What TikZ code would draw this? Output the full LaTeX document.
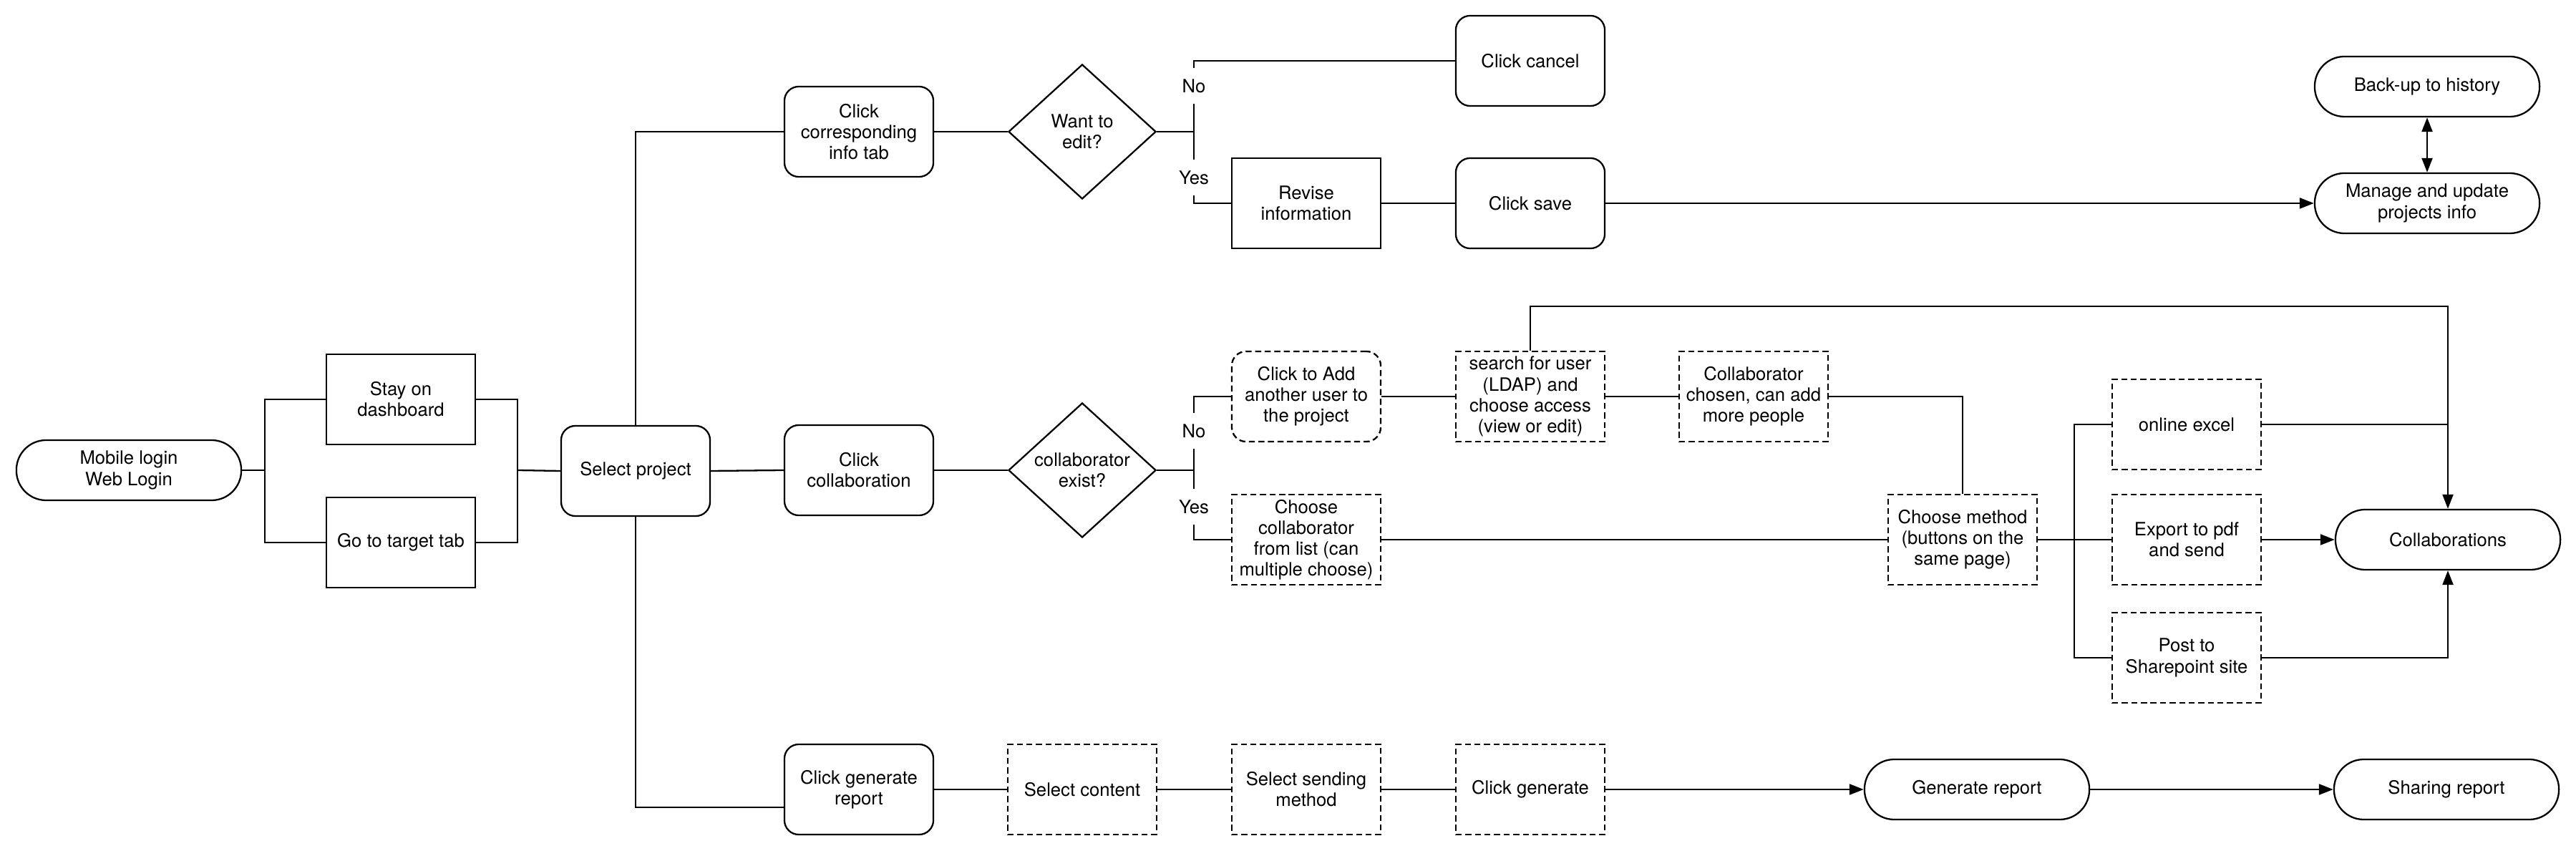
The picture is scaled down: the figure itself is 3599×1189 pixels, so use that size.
\documentclass[tikz,border=0pt]{standalone}
\usepackage{fontspec}
\setmainfont{TeX Gyre Heros}
\usetikzlibrary{arrows.meta,shapes.geometric}
\begin{document}
\begin{tikzpicture}[x=0.01cm,y=-0.01cm,
  line width=0.65pt,
  every node/.style={font=\fontsize{7.3}{8.3}\selectfont, align=center},
  box/.style={draw, minimum width=2.08cm, minimum height=1.26cm, inner sep=1pt},
  rbox/.style={box, rounded corners=0.2cm},
  dbox/.style={box, dash pattern=on 2.4pt off 1.4pt},
  drbox/.style={rbox, dash pattern=on 2.4pt off 1.4pt},
  pill/.style={draw, minimum width=3.14cm, minimum height=0.84cm, rounded corners=0.415cm, inner sep=1pt},
  dia/.style={draw, diamond, minimum width=2.06cm, minimum height=1.88cm, inner sep=0pt},
  lbl/.style={fill=white, inner xsep=1pt, inner ysep=4.5pt},
  arr/.style={-{Triangle[length=0.2cm,width=0.15cm]}},
  darr/.style={{Triangle[length=0.2cm,width=0.15cm]}-{Triangle[length=0.2cm,width=0.15cm]}},
]
\useasboundingbox (0,0) rectangle (3599,1189);
\fill[white] (0,0) rectangle (3599,1189);

% nodes
\node[pill] (mob) at (180,657) {Mobile login\\Web Login};
\node[box] (stay) at (560,558) {Stay on\\dashboard};
\node[box] (goto) at (560,758) {Go to target tab};
\node[rbox] (sel) at (888,658) {Select project};

\node[rbox] (cci) at (1200,184) {Click\\corresponding\\info tab};
\node[dia] (edit) at (1512,184) {Want to\\edit?};
\node[rbox] (cancel) at (2138,85) {Click cancel};
\node[box] (rev) at (1825,284) {Revise\\information};
\node[rbox] (save) at (2138,284) {Click save};
\node[pill] (back) at (3391,121) {Back-up to history};
\node[pill] (manage) at (3391,284) {Manage and update\\projects info};

\node[rbox] (ccol) at (1200,657) {Click\\collaboration};
\node[dia] (exist) at (1512,657) {collaborator\\exist?};
\node[drbox] (add) at (1825,554) {Click to Add\\another user to\\the project};
\node[dbox] (search) at (2138,554) {search for user\\(LDAP) and\\choose access\\(view or edit)};
\node[dbox] (chosen) at (2450,554) {Collaborator\\chosen, can add\\more people};
\node[dbox] (list) at (1825,754) {Choose\\collaborator\\from list (can\\multiple choose)};
\node[dbox] (method) at (2742,754) {Choose method\\(buttons on the\\same page)};
\node[dbox] (excel) at (3055,593) {online excel};
\node[dbox] (pdf) at (3055,754) {Export to pdf\\and send};
\node[dbox] (share) at (3055,919) {Post to\\Sharepoint site};
\node[pill] (colab) at (3420,754) {Collaborations};

\node[rbox] (cgr) at (1200,1103) {Click generate\\report};
\node[dbox] (scont) at (1512,1103) {Select content};
\node[dbox] (ssm) at (1825,1103) {Select sending\\method};
\node[dbox] (cgen) at (2138,1103) {Click generate};
\node[pill] (gen) at (2762,1103) {Generate report};
\node[pill] (sharing) at (3418,1103) {Sharing report};

% junction coordinates
\coordinate (b1) at (370,657);
\coordinate (b2) at (723,657);
\coordinate (br1) at (1668,184);
\coordinate (br2) at (1668,657);
\coordinate (b3) at (2898,754);
\coordinate (top) at (3420,428);
\coordinate (low) at ([yshift=-0.25cm]cgr.west);

% connectors
\draw (mob.east) -- (b1);
\draw (stay.west) -| (b1) |- (goto.west);
\draw (stay.east) -| (b2) |- (goto.east);
\draw (b2) -- (sel.west);
\draw (sel.north) |- (cci.west);
\draw (sel.east) -- (ccol.west);
\draw (sel.south) |- (low);

\draw (cci.east) -- (edit.west);
\draw (edit.east) -- (br1);
\draw (cancel.west) -| (br1) |- (rev.west);
\node[lbl] at (1668,120) {No};
\node[lbl] at (1668,248) {Yes};
\draw (rev.east) -- (save.west);
\draw[arr] (save.east) -- (manage.west);
\draw[darr] (manage.north) -- (back.south);

\draw (ccol.east) -- (exist.west);
\draw (exist.east) -- (br2);
\draw (add.west) -| (br2) |- (list.west);
\node[lbl] at (1668,602) {No};
\node[lbl] at (1668,708) {Yes};
\draw (add.east) -- (search.west);
\draw (search.east) -- (chosen.west);
\draw[arr] (search.north) |- (top) -- (colab.north);
\draw (chosen.east) -| (method.north);
\draw (list.east) -- (method.west);
\draw (method.east) -- (b3);
\draw (excel.west) -| (b3) |- (share.west);
\draw (b3) -- (pdf.west);
\draw (excel.east) -- (excel.east -| top);
\draw[arr] (pdf.east) -- (colab.west);
\draw[arr] (share.east) -| (colab.south);

\draw (cgr.east) -- (scont.west);
\draw (scont.east) -- (ssm.west);
\draw (ssm.east) -- (cgen.west);
\draw[arr] (cgen.east) -- (gen.west);
\draw[arr] (gen.east) -- (sharing.west);
\end{tikzpicture}
\end{document}
